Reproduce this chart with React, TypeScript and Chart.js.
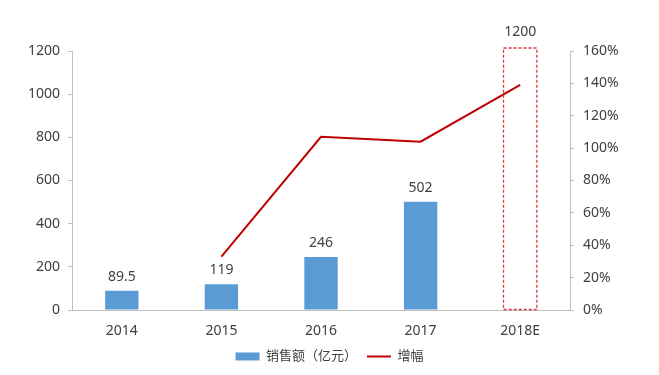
import React, { useEffect, useRef } from "react";
import { Chart, registerables } from "chart.js";

Chart.register(...registerables);

const categories = ["2014", "2015", "2016", "2017", "2018E"];
const salesValues = [89.5, 119, 246, 502, 1200];
const growthValues = [null, 33, 107, 104, 139];
const salesLabel = "销售额（亿元）";
const growthLabel = "增幅";

const FONT = '"Noto Sans", "Noto Sans CJK SC", sans-serif';
const TEXT = "#404040";
const AXIS = "#bfbfbf";

const barLabelPlugin = {
  id: "barLabels",
  afterDatasetsDraw(chart: any) {
    const ctx = chart.ctx;
    const meta = chart.getDatasetMeta(0);
    ctx.save();
    meta.data.forEach((bar: any, i: number) => {
      const last = i === meta.data.length - 1;
      if (last) {
        const w = bar.width;
        ctx.setLineDash([3, 2]);
        ctx.strokeStyle = "#e0353a";
        ctx.lineWidth = 1.3;
        ctx.strokeRect(bar.x - w / 2, bar.y - 3, w, bar.base - bar.y + 3);
        ctx.setLineDash([]);
      }
      ctx.fillStyle = TEXT;
      ctx.font = `14px ${FONT}`;
      ctx.textAlign = "center";
      ctx.textBaseline = "bottom";
      const y = last ? bar.y - 12 : bar.y - 7;
      ctx.fillText(String(salesValues[i]), bar.x, y);
    });
    ctx.restore();
  },
};

export default function App() {
  const ref = useRef<HTMLCanvasElement>(null);
  useEffect(() => {
    document.body.style.margin = "0";
    const chart = new Chart(ref.current!, {
      type: "bar",
      data: {
        labels: categories,
        datasets: [
          {
            type: "bar",
            label: salesLabel,
            data: salesValues,
            backgroundColor: salesValues.map((_, i) =>
              i === salesValues.length - 1 ? "rgba(0,0,0,0)" : "#5b9bd5"
            ),
            borderWidth: 0,
            categoryPercentage: 1,
            barPercentage: 0.335,
            yAxisID: "y",
            order: 2,
            pointStyle: "rect",
          } as any,
          {
            type: "line",
            label: growthLabel,
            data: growthValues,
            borderColor: "#c00000",
            backgroundColor: "#c00000",
            borderWidth: 2,
            pointRadius: 0,
            tension: 0,
            yAxisID: "y1",
            order: 1,
            pointStyle: "line",
          } as any,
        ],
      },
      options: {
        animation: false,
        responsive: false,
        maintainAspectRatio: false,
        layout: { padding: { top: 51, left: 0, right: 0, bottom: 2 } },
        plugins: {
          tooltip: { enabled: false },
          legend: {
            position: "bottom",
            labels: {
              usePointStyle: true,
              pointStyleWidth: 24,
              boxHeight: 8,
              color: TEXT,
              font: { family: FONT, size: 13 },
              padding: 10,
              sort: (a: any, b: any) => a.datasetIndex - b.datasetIndex,
            },
          },
        },
        scales: {
          x: {
            grid: { display: false },
            border: { display: true, color: AXIS, width: 1 },
            ticks: { color: TEXT, font: { family: FONT, size: 14 }, padding: 5 },
            afterFit(scale: any) {
              scale.height = 30;
            },
          },
          y: {
            position: "left",
            min: 0,
            max: 1200,
            ticks: {
              stepSize: 200,
              color: TEXT,
              font: { family: FONT, size: 14 },
              padding: 8,
              callback: (v: any) => String(v),
            },
            grid: { drawOnChartArea: false, drawTicks: true, tickLength: 4, color: AXIS },
            border: { display: true, color: AXIS },
            afterFit(scale: any) {
              scale.width = 72;
            },
          },
          y1: {
            position: "right",
            min: 0,
            max: 160,
            ticks: {
              stepSize: 20,
              color: TEXT,
              font: { family: FONT, size: 14 },
              padding: 9,
              callback: (v: any) => `${v}%`,
            },
            grid: { drawOnChartArea: false, drawTicks: true, tickLength: 4, color: AXIS },
            border: { display: true, color: AXIS },
            afterFit(scale: any) {
              scale.width = 89;
            },
          },
        },
      } as any,
      plugins: [barLabelPlugin],
    });
    return () => chart.destroy();
  }, []);
  return (
    <div style={{ width: 659, height: 375 }}>
      <canvas ref={ref} width={659} height={375} style={{ width: 659, height: 375, display: "block" }} />
    </div>
  );
}
